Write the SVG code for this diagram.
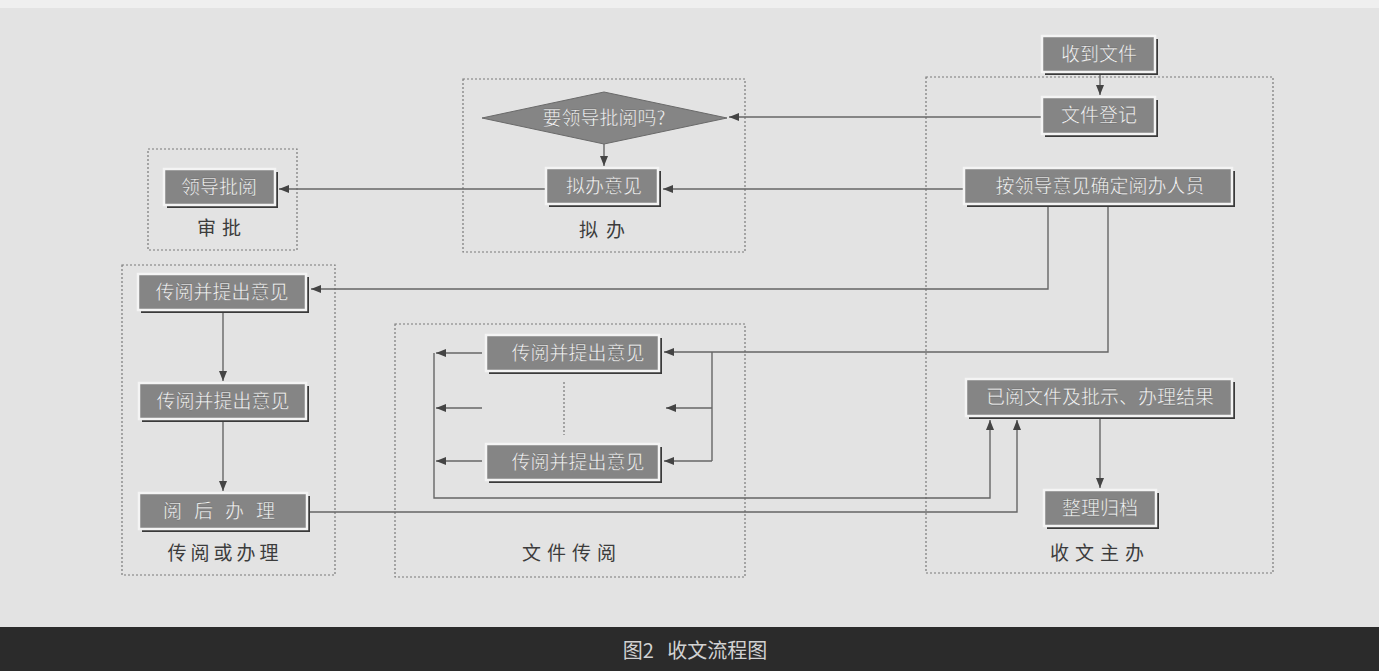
<svg xmlns="http://www.w3.org/2000/svg" width="1379" height="671" viewBox="0 0 1379 671">
<defs>
<style>
.grp{fill:none;stroke:#7a7a7a;stroke-width:1.2;stroke-dasharray:2 2}
.glabel{font-family:"Noto Sans CJK SC","Noto Sans",sans-serif;font-size:19px;fill:#3c3c3c;text-anchor:middle}
.shadow{fill:#3a3a3a}
.box{fill:#858585;stroke:#f4f4f4;stroke-width:2.5}
.btxt{font-family:"Noto Sans CJK SC","Noto Sans",sans-serif;font-size:19px;fill:#f4f4f4;text-anchor:middle;stroke:#5a5a5a;stroke-width:0.3}
.con{fill:none;stroke:#666;stroke-width:1.4}
.arr{marker-end:url(#ah)}
</style>
<marker id="ah" markerUnits="userSpaceOnUse" markerWidth="12" markerHeight="10" refX="10" refY="4" orient="auto">
<path d="M0,0 L10,4 L0,8 z" fill="#444"/>
</marker>
</defs>
<rect x="0" y="0" width="1379" height="671" fill="#e3e3e3"/>
<rect x="0" y="0" width="1379" height="8" fill="#efefef"/>
<rect x="0" y="627" width="1379" height="44" fill="#2b2b2b"/>
<text x="695" y="658" font-family="'Noto Sans CJK SC','Noto Sans',sans-serif" font-size="20" fill="#d2d2d2" text-anchor="middle" xml:space="preserve">图2   收文流程图</text>

<g id="groups">
<rect class="grp" x="148" y="149" width="149" height="101"/>
<text class="glabel" x="222" y="235" letter-spacing="6">审批</text>
<rect class="grp" x="463" y="79" width="282" height="173"/>
<text class="glabel" x="606" y="237" letter-spacing="8">拟办</text>
<rect class="grp" x="122" y="265" width="213" height="310"/>
<text class="glabel" x="225" y="560" letter-spacing="4">传阅或办理</text>
<rect class="grp" x="395" y="324" width="350" height="253"/>
<text class="glabel" x="572" y="560" letter-spacing="6">文件传阅</text>
<rect class="grp" x="926" y="77" width="347" height="496"/>
<text class="glabel" x="1100" y="560" letter-spacing="6">收文主办</text>
</g>

<g id="connectors">
<path class="con arr" d="M1100,74 L1100,95"/>
<path class="con arr" d="M1042,117 L729,117"/>
<path class="con arr" d="M604,144 L604,166"/>
<path class="con arr" d="M964,189 L663,189"/>
<path class="con arr" d="M546,189 L279,189"/>
<path class="con arr" d="M1048,207 L1048,289 L311,289"/>
<path class="con arr" d="M1108,207 L1108,352 L664,352"/>
<path class="con" d="M712,352 L712,461"/>
<path class="con arr" d="M712,408 L666,408"/>
<path class="con arr" d="M712,461 L664,461"/>
<path class="con arr" d="M482,353 L436,353"/>
<path class="con arr" d="M482,408 L436,408"/>
<path class="con arr" d="M482,461 L436,461"/>
<path class="con arr" d="M434,353 L434,498 L990,498 L990,420"/>
<path class="con arr" d="M309,512 L1017,512 L1017,420"/>
<path class="con arr" d="M223,313 L223,381"/>
<path class="con arr" d="M223,422 L223,491"/>
<path class="con arr" d="M1100,419 L1100,488"/>
<path d="M564,382 L564,435" fill="none" stroke="#777" stroke-width="1.2" stroke-dasharray="2 2"/>
</g>

<g id="n-shoudao">
<rect class="shadow" x="1045" y="39" width="113" height="36"/>
<rect class="box" x="1042" y="36" width="113" height="36"/>
<text class="btxt" x="1099" y="61">收到文件</text>
</g>
<g id="n-dengji">
<rect class="shadow" x="1045" y="100" width="113" height="37"/>
<rect class="box" x="1042" y="97" width="113" height="37"/>
<text class="btxt" x="1099" y="122">文件登记</text>
</g>
<g id="n-queding">
<rect class="shadow" x="967" y="171" width="268" height="36"/>
<rect class="box" x="964" y="168" width="268" height="36"/>
<text class="btxt" x="1100" y="193">按领导意见确定阅办人员</text>
</g>
<g id="n-yiyue">
<rect class="shadow" x="969" y="382" width="266" height="37"/>
<rect class="box" x="966" y="379" width="266" height="37"/>
<text class="btxt" x="1100" y="404">已阅文件及批示、办理结果</text>
</g>
<g id="n-zhengli">
<rect class="shadow" x="1047" y="493" width="112" height="36"/>
<rect class="box" x="1044" y="490" width="112" height="36"/>
<text class="btxt" x="1100" y="515">整理归档</text>
</g>
<g id="n-diamond">
<path d="M482,118 L604,92 L727,118 L604,144 Z" fill="#858585" stroke="#6a6a6a" stroke-width="1"/>
<text class="btxt" x="604" y="125">要领导批阅吗?</text>
</g>
<g id="n-niban">
<rect class="shadow" x="549" y="171" width="112" height="36"/>
<rect class="box" x="546" y="168" width="112" height="36"/>
<text class="btxt" x="604" y="193">拟办意见</text>
</g>
<g id="n-lingdao">
<rect class="shadow" x="167" y="172" width="111" height="36"/>
<rect class="box" x="164" y="169" width="111" height="36"/>
<text class="btxt" x="219" y="194">领导批阅</text>
</g>
<g id="n-chuanyue1">
<rect class="shadow" x="141" y="277" width="168" height="36"/>
<rect class="box" x="138" y="274" width="168" height="36"/>
<text class="btxt" x="222" y="299">传阅并提出意见</text>
</g>
<g id="n-chuanyue2">
<rect class="shadow" x="142" y="386" width="167" height="36"/>
<rect class="box" x="139" y="383" width="167" height="36"/>
<text class="btxt" x="223" y="408">传阅并提出意见</text>
</g>
<g id="n-yuehou">
<rect class="shadow" x="142" y="496" width="168" height="36"/>
<rect class="box" x="139" y="493" width="168" height="36"/>
<text class="btxt" x="225" y="518" letter-spacing="12">阅后办理</text>
</g>
<g id="n-chuanyueA">
<rect class="shadow" x="489" y="338" width="173" height="36"/>
<rect class="box" x="486" y="335" width="173" height="36"/>
<text class="btxt" x="578" y="360">传阅并提出意见</text>
</g>
<g id="n-chuanyueB">
<rect class="shadow" x="489" y="447" width="173" height="36"/>
<rect class="box" x="486" y="444" width="173" height="36"/>
<text class="btxt" x="578" y="469">传阅并提出意见</text>
</g>
</svg>
